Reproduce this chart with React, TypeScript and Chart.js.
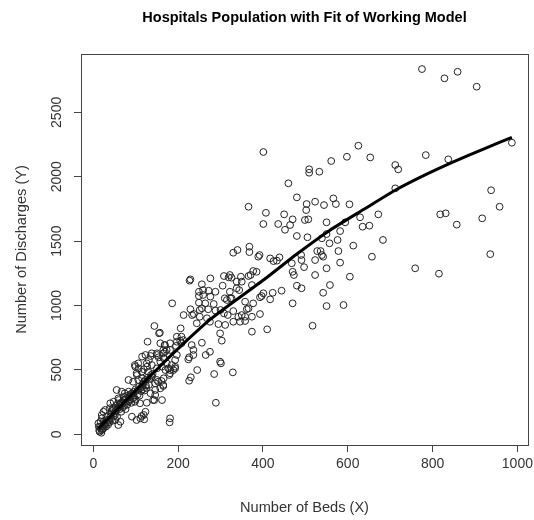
import React, { useEffect, useRef } from "react";
import { Chart, registerables } from "chart.js";

Chart.register(...registerables);

const chartTitle = "Hospitals Population with Fit of Working Model";
const xTitle = "Number of Beds (X)";
const yTitle = "Number of Discharges (Y)";

const xTickValues = [0, 200, 400, 600, 800, 1000];
const yTickValues = [0, 500, 1000, 1500, 2000, 2500];

const bedsX = [
  401, 460, 509, 509, 533, 561, 598, 625, 653, 775,
  828, 859, 904, 987, 784, 837, 712, 719, 712, 938,
  958, 818, 831, 857, 917, 936, 759, 815, 683, 672,
  480, 566, 523, 503, 572, 544, 604, 366, 502, 407,
  450, 470, 499, 507, 629, 401, 436, 464, 550, 594,
  635, 651, 452, 582, 480, 505, 539, 550, 576, 557,
  613, 368, 330, 340, 368, 392, 389, 528, 536, 539,
  542, 578, 657, 417, 425, 439, 433, 490, 491, 523,
  468, 582, 385, 377, 322, 326, 348, 366, 371, 470,
  473, 497, 550, 523, 605, 338, 350, 374, 480, 491,
  558, 401, 423, 444, 542, 338, 344, 358, 377, 393,
  397, 417, 326, 322, 470, 550, 590, 366, 362, 330,
  342, 350, 358, 374, 393, 410, 517, 227, 229, 256,
  276, 308, 319, 305, 249, 259, 272, 288, 249, 259,
  276, 310, 315, 323, 186, 249, 264, 284, 229, 237,
  251, 256, 271, 288, 213, 233, 251, 268, 300, 308,
  317, 180, 289, 329, 285, 299, 301, 275, 265, 245,
  230, 226, 165, 161, 179, 193, 181, 236, 224, 226,
  256, 303, 299, 295, 374, 206, 244, 275, 197, 205,
  195, 232, 236, 169, 173, 165, 167, 173, 185, 193,
  311, 330, 346, 358, 144, 157, 128, 158, 168, 115,
  123, 131, 135, 150, 154, 158, 166, 99, 107, 119,
  127, 138, 150, 162, 170, 103, 115, 123, 138, 150,
  166, 115, 131, 146, 158, 135, 144, 162, 72, 60,
  48, 40, 64, 91, 111, 119, 123, 56, 64, 52,
  13, 20, 25, 32, 40, 17, 155, 181, 102, 114,
  120, 26, 16, 12, 59, 47, 24, 126, 141, 146,
  165, 146, 181, 189, 177, 193, 197, 208, 208, 138,
  150, 165, 169, 181, 98, 106, 126, 102, 114, 130,
  83, 94, 106, 118, 153, 55, 67, 74, 83, 91,
  59, 71, 79, 94, 98, 110, 28, 39, 20, 31,
  43, 51, 36, 24, 20, 24, 28, 181, 197, 212,
  14, 18, 22, 15, 19, 30, 33, 35, 38, 42,
  45, 48, 50, 53, 57, 60, 62, 65, 68, 70,
  75, 78, 80, 82, 85, 88, 92, 95, 100, 104,
  108, 112, 116, 120, 124, 128, 132, 136, 140, 44,
  46, 53, 58, 62, 66, 70, 74, 76, 84, 87,
  90, 96, 100, 105, 109, 113, 117, 121, 125,
];

const dischargesY = [
  2192, 1949, 2058, 2031, 2039, 2122, 2155, 2241, 2150, 2836,
  2764, 2815, 2699, 2264, 2168, 2135, 2091, 2057, 1910, 1895,
  1767, 1708, 1716, 1628, 1677, 1399, 1289, 1247, 1509, 1708,
  1840, 1832, 1806, 1788, 1788, 1780, 1786, 1767, 1741, 1720,
  1708, 1669, 1664, 1669, 1685, 1633, 1633, 1625, 1646, 1646,
  1612, 1620, 1588, 1578, 1540, 1530, 1522, 1555, 1509, 1483,
  1465, 1457, 1410, 1431, 1415, 1392, 1379, 1423, 1423, 1392,
  1379, 1423, 1379, 1366, 1345, 1374, 1348, 1392, 1353, 1353,
  1328, 1333, 1262, 1268, 1237, 1216, 1224, 1229, 1237, 1262,
  1237, 1298, 1289, 1237, 1224, 1185, 1185, 1159, 1154, 1134,
  1159, 1095, 1099, 1115, 1099, 1134, 1120, 1030, 1017, 1064,
  1074, 1048, 1056, 1107, 1017, 996, 1004, 978, 972, 957,
  913, 926, 913, 913, 934, 815, 843, 1193, 1203, 1165,
  1211, 1229, 1219, 1154, 1107, 1120, 1115, 1107, 1074, 1082,
  1069, 1056, 1043, 1056, 1017, 1022, 1017, 1012, 971, 934,
  965, 978, 971, 960, 926, 926, 913, 901, 965, 939,
  926, 93, 245, 481, 468, 564, 551, 641, 616, 499,
  443, 416, 375, 414, 461, 512, 499, 616, 582, 598,
  711, 727, 784, 856, 797, 823, 862, 874, 758, 727,
  686, 693, 655, 693, 655, 629, 590, 551, 538, 525,
  849, 874, 874, 880, 841, 789, 719, 707, 693, 603,
  616, 577, 608, 629, 598, 564, 590, 525, 512, 505,
  525, 538, 512, 525, 499, 460, 435, 422, 447, 422,
  435, 370, 383, 344, 357, 318, 266, 266, 292, 266,
  253, 241, 241, 137, 124, 150, 175, 137, 98, 111,
  59, 33, 85, 111, 137, 98, 784, 124, 111, 142,
  116, 75, 59, 85, 72, 189, 175, 245, 266, 305,
  383, 396, 474, 499, 512, 577, 616, 707, 758, 629,
  616, 655, 641, 655, 538, 551, 551, 474, 486, 486,
  422, 408, 422, 396, 408, 344, 331, 318, 331, 318,
  279, 266, 253, 279, 253, 241, 189, 202, 150, 137,
  163, 150, 111, 98, 124, 47, 72, 707, 719, 732,
  30, 45, 40, 20, 12, 60, 90, 75, 95, 120,
  105, 140, 165, 180, 200, 210, 230, 220, 250, 240,
  270, 280, 230, 300, 290, 310, 300, 330, 350, 340,
  370, 360, 390, 410, 380, 440, 430, 460, 470, 180,
  200, 220, 240, 195, 175, 210, 225, 195, 255, 270,
  245, 290, 270, 310, 300, 335, 350, 340, 360,
];

const fitX = [12, 30, 60, 100, 158, 208, 275, 323, 402, 480, 558, 637, 712, 780, 849, 920, 987];
const fitY = [45, 105, 205, 340, 530, 690, 890, 1010, 1200, 1400, 1585, 1745, 1895, 2010, 2115, 2215, 2305];

const FONT = '"Liberation Sans", Arial, sans-serif';

export default function App() {
  const canvasRef = useRef<HTMLCanvasElement>(null);

  useEffect(() => {
    const canvas = canvasRef.current;
    if (!canvas) return;

    const rTextPlugin = {
      id: "rText",
      afterDraw(chart: any) {
        const c = chart.ctx as CanvasRenderingContext2D;
        const a = chart.chartArea;
        const xs = chart.scales.x;
        const ys = chart.scales.y;
        c.save();
        c.strokeStyle = "#444";
        c.lineWidth = 1;
        c.strokeRect(
          Math.round(a.left) + 0.5,
          Math.round(a.top) + 0.5,
          Math.round(a.right - a.left),
          Math.round(a.bottom - a.top)
        );
        c.textAlign = "center";
        c.textBaseline = "middle";
        c.fillStyle = "#000";
        c.font = `bold 14.5px ${FONT}`;
        c.fillText(chartTitle, (a.left + a.right) / 2, 18);

        c.fillStyle = "#333";
        c.font = `14px ${FONT}`;
        xs.ticks.forEach((t: any) => {
          c.fillText(String(t.value), xs.getPixelForValue(t.value), a.bottom + 19);
        });

        ys.ticks.forEach((t: any) => {
          c.save();
          c.translate(a.left - 24, ys.getPixelForValue(t.value));
          c.rotate(-Math.PI / 2);
          c.fillText(String(t.value), 0, 0);
          c.restore();
        });

        c.font = `14.6px ${FONT}`;
        c.fillText(xTitle, (a.left + a.right) / 2, a.bottom + 63);
        c.save();
        c.translate(22, (a.top + a.bottom) / 2);
        c.rotate(-Math.PI / 2);
        c.fillText(yTitle, 0, 0);
        c.restore();
        c.restore();
      },
    };

    const points = bedsX.map((x, i) => ({ x, y: dischargesY[i] }));
    const fit = fitX.map((x, i) => ({ x, y: fitY[i] }));

    const chart = new Chart(canvas, {
      type: "scatter",
      data: {
        datasets: [
          {
            type: "line",
            label: "Fit",
            data: fit,
            borderColor: "#000",
            borderWidth: 3,
            pointRadius: 0,
            tension: 0.2,
            fill: false,
          } as any,
          {
            label: "Hospitals",
            data: points,
            pointStyle: "circle",
            pointRadius: 3.4,
            borderWidth: 1,
            borderColor: "#222",
            backgroundColor: "rgba(0,0,0,0)",
          },
        ],
      },
      options: {
        responsive: false,
        animation: false,
        layout: { padding: { top: 54, right: 6, left: 0, bottom: 0 } },
        plugins: {
          legend: { display: false },
          title: { display: false },
          tooltip: { enabled: false },
        },
        scales: {
          x: {
            type: "linear",
            min: -29,
            max: 1025,
            afterBuildTicks: (s: any) => {
              s.ticks = xTickValues.map((v) => ({ value: v }));
            },
            afterFit: (s: any) => {
              s.height = 75;
            },
            ticks: { display: false },
            border: { display: false },
            grid: { drawOnChartArea: false, drawTicks: true, tickLength: 7, color: "#444", lineWidth: 1 },
          },
          y: {
            type: "linear",
            min: -83,
            max: 2953,
            afterBuildTicks: (s: any) => {
              s.ticks = yTickValues.map((v) => ({ value: v }));
            },
            afterFit: (s: any) => {
              s.width = 81;
            },
            ticks: { display: false },
            border: { display: false },
            grid: { drawOnChartArea: false, drawTicks: true, tickLength: 7, color: "#444", lineWidth: 1 },
          },
        },
      },
      plugins: [rTextPlugin],
    });

    return () => chart.destroy();
  }, []);

  return (
    <div style={{ position: "absolute", left: 0, top: 0, width: 534, height: 520, background: "#fff" }}>
      <canvas ref={canvasRef} width={534} height={520} style={{ display: "block" }} />
    </div>
  );
}
